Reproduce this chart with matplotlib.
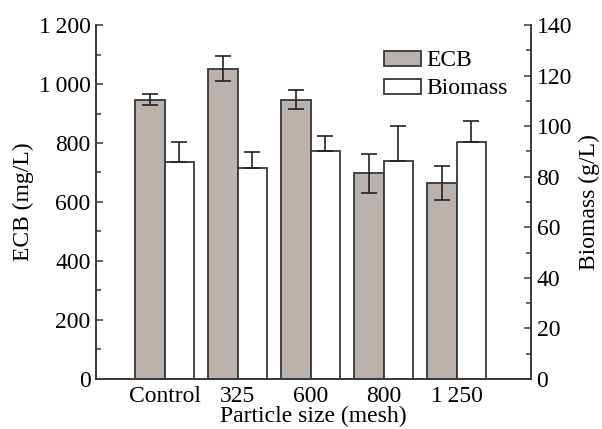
import numpy as np
import matplotlib.pyplot as plt

plt.rcParams["font.family"] = ["Liberation Serif", "DejaVu Serif"]
plt.rcParams["font.size"] = 17

sizes = ["Control", "325", "600", "800", "1\u2009250"]
ecb = [947, 1052, 947, 697, 664]
ecb_err = [18, 42, 32, 65, 57]
biomass = [85.8, 83.4, 90.2, 86.2, 93.7]
biomass_err = [8.0, 6.4, 5.8, 14.0, 8.5]

grey = "#bab2ad"
edge = "#383838"
x = np.arange(len(sizes))
w = 0.4

fig = plt.figure(figsize=(6.02, 4.29), dpi=100)
ax = fig.add_axes([0.1595, 0.1166, 0.7225, 0.8251])
ax2 = ax.twinx()

b1 = ax.bar(x - w / 2, ecb, w, color=grey, edgecolor=edge, linewidth=1.3,
            yerr=ecb_err, capsize=6,
            error_kw=dict(ecolor="#222222", elinewidth=1.2, capthick=1.2),
            label="ECB")
b2 = ax2.bar(x + w / 2, biomass, w, color="white", edgecolor=edge, linewidth=1.3,
             yerr=[np.zeros(len(biomass_err)), biomass_err], capsize=6,
             error_kw=dict(ecolor="#222222", elinewidth=1.2, capthick=1.2),
             label="Biomass")

ax.set_xlim(-0.94, 5.02)
ax.set_ylim(0, 1200)
ax2.set_ylim(0, 140)

ax.set_yticks(np.arange(0, 1201, 200))
ax.set_yticklabels([f"{v:,}".replace(",", "\u2009") for v in range(0, 1201, 200)])
ax.set_yticks(np.arange(100, 1200, 200), minor=True)
ax2.set_yticks(np.arange(0, 141, 20))
ax2.set_yticks(np.arange(10, 140, 20), minor=True)

ax.set_xticks(x)
ax.set_xticklabels(sizes)
ax.tick_params(axis="x", length=0, pad=5)
ax.tick_params(axis="y", which="major", direction="in", length=5, width=1.1, color=edge, pad=4)
ax.tick_params(axis="y", which="minor", direction="in", length=3.5, width=1.1, color=edge)
ax2.tick_params(axis="y", which="major", direction="in", length=5, width=1.1, color=edge, pad=4)
ax2.tick_params(axis="y", which="minor", direction="in", length=3.5, width=1.1, color=edge)

for a in (ax, ax2):
    a.spines["top"].set_visible(False)
    for s in ("left", "right", "bottom"):
        a.spines[s].set_color(edge)
        a.spines[s].set_linewidth(1.2)

ax.set_xlabel("Particle size (mesh)", labelpad=-1)
ax.set_ylabel("ECB (mg/L)", labelpad=3)
ax2.set_ylabel("Biomass (g/L)", labelpad=5)

ax2.legend([b1, b2], ["ECB", "Biomass"], loc="upper left",
           bbox_to_anchor=(0.64, 0.955), frameon=False,
           handlelength=1.57, handleheight=0.6, handletextpad=0.25,
           labelspacing=0.3, borderaxespad=0)

fig.savefig("out.png", dpi=100)
